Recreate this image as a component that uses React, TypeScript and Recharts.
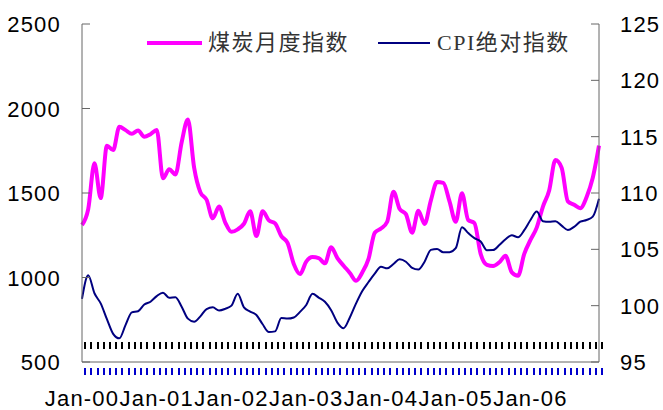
import React from 'react';
import { LineChart, Line, XAxis, YAxis, Legend } from 'recharts';

// monthly values, Jan-2000 .. Dec-2006
const yearLabels = ['Jan-00', 'Jan-01', 'Jan-02', 'Jan-03', 'Jan-04', 'Jan-05', 'Jan-06'];

const coalIndex = [
  1311, 1405, 1676, 1470, 1780, 1754, 1892, 1872, 1850, 1870, 1833, 1848,
  1873, 1587, 1640, 1610, 1800, 1935, 1650, 1505, 1460, 1350, 1420, 1325,
  1270, 1285, 1318, 1392, 1245, 1392, 1338, 1320, 1245, 1205, 1080, 1020,
  1094, 1121, 1115, 1084, 1179, 1115, 1070, 1027, 981, 1030, 1110, 1265,
  1290, 1330, 1508, 1405, 1375, 1265, 1395, 1317, 1455, 1565, 1560, 1450,
  1330, 1498, 1340, 1322, 1140, 1075, 1068, 1090, 1128, 1030, 1010, 1140,
  1222, 1295, 1420, 1515, 1695, 1650, 1450, 1430, 1410, 1475, 1590, 1780,
];

const cpiIndex = [
  100.6, 102.7, 101.1, 100.2, 98.8, 97.5, 97.1, 98.3, 99.4, 99.5, 100.1, 100.35,
  100.85, 101.15, 100.7, 100.75, 99.9, 98.85, 98.58, 99.05, 99.7, 99.85, 99.57, 99.72,
  100.0, 101.05, 99.85, 99.48, 99.17, 98.35, 97.66, 97.72, 98.9, 98.85, 98.95, 99.45,
  100.06, 101.05, 100.72, 100.35, 99.6, 98.5, 98.0, 98.95, 100.2, 101.3, 102.1, 102.85,
  103.45, 103.31, 103.7, 104.12, 103.9, 103.35, 103.2, 103.9, 104.95, 105.03, 104.74, 104.75,
  105.1, 106.95, 106.45, 106.0, 105.7, 104.92, 104.93, 105.38, 105.9, 106.25, 106.07, 106.7,
  107.6, 108.35, 107.5, 107.45, 107.5, 107.1, 106.72, 107.0, 107.45, 107.6, 107.9, 109.5,
];

const leftTicks = [500, 1000, 1500, 2000, 2500];
const rightTicks = [95, 100, 105, 110, 115, 120, 125];

const months = coalIndex.map((_, i) => `${2000 + Math.floor(i / 12)}-${i % 12 + 1}`);
const data = months.map((m, i) => ({ month: m, coal: coalIndex[i], cpi: cpiIndex[i] }));

const axisColor = '#666';
const numFont = '"Liberation Sans", Arial, sans-serif';
const halfBand = 517 / 84 / 2;

// month tick marks sit on the month boundaries and point up into the plot
const MonthTick = (props: any) => {
  const { x, y, index } = props;
  const label = index % 12 === 0 ? yearLabels[index / 12] : null;
  const tx = Math.round(Number(x) + halfBand);
  const ty = Math.round(Number(y));
  return (
    <g>
      <rect x={tx - 1} y={ty - 20} width={2} height={7} fill="#000" />
      <rect x={tx - 1} y={ty + 6} width={2} height={7} fill="#00c" />
      {label && (
        <text x={x} y={y + 44} textAnchor="middle" fontSize={22} letterSpacing={1.2} fill="#000" fontFamily={numFont}>
          {label}
        </text>
      )}
    </g>
  );
};

const LeftTick = ({ x, y, payload }: any) => (
  <g>
    <line x1={x} y1={y} x2={x + 8} y2={y} stroke={axisColor} />
    <text x={x - 21} y={y + 8} textAnchor="end" fontSize={22} letterSpacing={1.2} fill="#000" fontFamily={numFont}>
      {payload.value}
    </text>
  </g>
);

const RightTick = ({ x, y, payload }: any) => (
  <g>
    <line x1={x - 8} y1={y} x2={x} y2={y} stroke={axisColor} />
    <text x={x + 21} y={y + 8} textAnchor="start" fontSize={22} letterSpacing={1.2} fill="#000" fontFamily={numFont}>
      {payload.value}
    </text>
  </g>
);

const legendFont = '"Liberation Serif", "Noto Sans CJK SC", serif';

const LegendBox = () => (
  <div style={{ position: 'relative', width: 663, height: 26, fontFamily: legendFont, fontSize: 22, color: '#333', letterSpacing: 1.5 }}>
    <div style={{ position: 'absolute', left: 147, top: 0, height: 26, display: 'flex', alignItems: 'center' }}>
      <span style={{ display: 'inline-block', width: 55, height: 4, background: '#ff00ff', marginRight: 6 }} />
      <span style={{ lineHeight: '26px' }}>煤炭月度指数</span>
    </div>
    <div style={{ position: 'absolute', left: 378, top: 0, height: 26, display: 'flex', alignItems: 'center' }}>
      <span style={{ display: 'inline-block', width: 52, height: 2, background: '#000080', marginRight: 7 }} />
      <span style={{ lineHeight: '26px' }}>CPI绝对指数</span>
    </div>
  </div>
);

export default function App() {
  return (
    <div style={{ position: 'absolute', left: 0, top: 0 }}>
      <LineChart width={663} height={410} data={data} margin={{ top: 24, right: 0, bottom: 0, left: 0 }}>
        <XAxis
          dataKey="month"
          height={48}
          interval={0}
          tickSize={0}
          tickMargin={0}
          tickLine={false}
          axisLine={{ stroke: axisColor }}
          tick={<MonthTick />}
        />
        <YAxis
          yAxisId="left"
          width={82}
          domain={[500, 2500]}
          ticks={leftTicks}
          interval={0}
          tickSize={0}
          tickMargin={0}
          tickLine={false}
          axisLine={{ stroke: axisColor }}
          tick={<LeftTick />}
        />
        <YAxis
          yAxisId="right"
          orientation="right"
          width={64}
          domain={[95, 125]}
          ticks={rightTicks}
          interval={0}
          tickSize={0}
          tickMargin={0}
          tickLine={false}
          axisLine={{ stroke: axisColor }}
          tick={<RightTick />}
        />
        <Legend
          layout="horizontal"
          verticalAlign="middle"
          align="center"
          wrapperStyle={{ top: 30, left: 0, width: 663 }}
          content={<LegendBox />}
        />
        <Line
          yAxisId="left"
          type="monotone"
          dataKey="coal"
          name="煤炭月度指数"
          stroke="#ff00ff"
          strokeWidth={4}
          dot={false}
          isAnimationActive={false}
        />
        <Line
          yAxisId="right"
          type="monotone"
          dataKey="cpi"
          name="CPI绝对指数"
          stroke="#000080"
          strokeWidth={2}
          dot={false}
          isAnimationActive={false}
        />
      </LineChart>
    </div>
  );
}
